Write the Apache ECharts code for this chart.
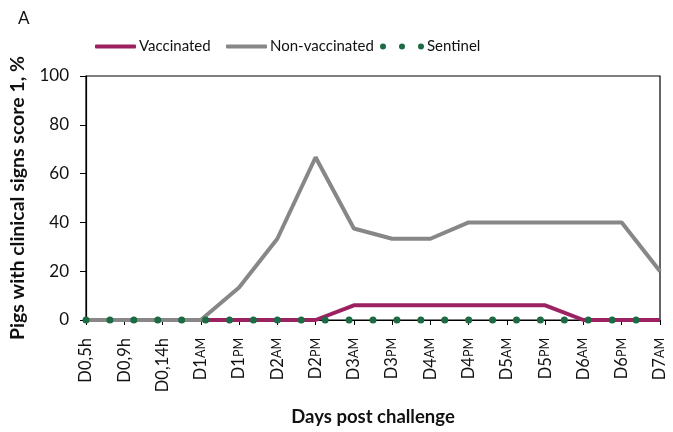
<!DOCTYPE html>
<html>
<head>
<meta charset="utf-8">
<script src="https://cdn.jsdelivr.net/npm/echarts@6/dist/echarts.min.js"></script>
<style>html,body{margin:0;padding:0;background:#fff}#c{width:673px;height:432px}</style>
</head>
<body>
<div id="c"></div>
<script>
var categories = ['D0,5h','D0,9h','D0,14h','D1AM','D1PM','D2AM','D2PM','D3AM','D3PM','D4AM','D4PM','D5AM','D5PM','D6AM','D6PM','D7AM'];
var vaccinated = [0,0,0,0,0,0,0,6,6,6,6,6,6,0,0,0];
var nonVaccinated = [0,0,0,0,13.3,33.3,66.7,37.5,33.3,33.3,40,40,40,40,40,20];
var sentinel = [0,0,0,0,0,0,0,0,0,0,0,0,0,0,0,0,0,0,0,0,0,0,0,0];
var sentinelSlots = 25;
var yTicks = [0,20,40,60,80,100];

var FONT = 'Lato';
var chart = echarts.init(document.getElementById('c'), null, {renderer:'canvas'});
var dotsIcon = 'path://M0,3a3,3 0 1,0 6,0a3,3 0 1,0 -6,0Z M19,3a3,3 0 1,0 6,0a3,3 0 1,0 -6,0Z M38,3a3,3 0 1,0 6,0a3,3 0 1,0 -6,0Z';
function legendAt(left, name, icon, w, h, color) {
  return {
    left: left, top: 39, padding: 0, itemWidth: w, itemHeight: h, itemGap: 0,
    icon: icon, data: [{name: name, icon: icon, itemStyle: {color: color}}],
    textStyle: {fontFamily: FONT, fontSize: 15, color: '#111', padding: [0,0,0,-2]},
    selectedMode: false
  };
}
chart.setOption({
  animation: false,
  textStyle: {fontFamily: FONT},
  title: {text: 'A', left: 13, top: 5, textStyle: {fontFamily: FONT, fontSize: 17, fontWeight: 'normal', color: '#111'}},
  legend: [
    legendAt(95, 'Vaccinated', 'roundRect', 41, 4, '#9b2160'),
    legendAt(226, 'Non-vaccinated', 'roundRect', 41, 4, '#878787'),
    legendAt(380, 'Sentinel', dotsIcon, 44, 6, '#1d6b44')
  ],
  grid: {left: 84, top: 76, right: 13, bottom: 112, show: true, borderColor: '#000', borderWidth: 1.2, containLabel: false},
  xAxis: [{
    type: 'category', data: categories, boundaryGap: false,
    name: 'Days post challenge', nameLocation: 'middle', nameGap: 88,
    nameTextStyle: {fontFamily: FONT, fontSize: 18.5, fontWeight: 'bold', color: '#111'},
    axisLine: {lineStyle: {color: '#000', width: 1.2}},
    axisTick: {show: true, alignWithLabel: true, length: 5, lineStyle: {color: '#000'}, interval: 0},
    axisLabel: {
      interval: 0, rotate: 90, margin: 18, color: '#111',
      formatter: function (v) {
        var m = v.match(/^(D\d)(AM|PM)$/);
        if (m) return '{a|' + m[1] + '}{s|' + m[2] + '}';
        return '{a|' + v + '}';
      },
      rich: {a: {fontFamily: FONT, fontSize: 16.5, color: '#111'}, s: {fontFamily: FONT, fontSize: 12.5, color: '#111'}}
    },
    splitLine: {show: false}
  }, {
    type: 'category', boundaryGap: false, show: false, min: 0, max: sentinelSlots - 1,
    data: sentinel.map(function (v, i) { return String(i); }).concat(['']),
    position: 'bottom'
  }],
  yAxis: {
    type: 'value', min: yTicks[0], max: yTicks[yTicks.length - 1], interval: 20,
    name: 'Pigs with clinical signs score 1, %', nameLocation: 'middle', nameGap: 58,
    nameTextStyle: {fontFamily: FONT, fontSize: 19.5, fontWeight: 'bold', color: '#111'},
    axisLine: {show: true, lineStyle: {color: '#000', width: 1.2}},
    axisTick: {show: true, length: 6, lineStyle: {color: '#000'}},
    axisLabel: {color: '#111', fontFamily: FONT, fontSize: 17, margin: 17},
    splitLine: {show: false}
  },
  series: [
    {name: 'Vaccinated', type: 'line', data: vaccinated, xAxisIndex: 0, symbol: 'none',
     lineStyle: {color: '#9b2160', width: 4}, itemStyle: {color: '#9b2160'}},
    {name: 'Non-vaccinated', type: 'line', data: nonVaccinated, xAxisIndex: 0, symbol: 'none',
     lineStyle: {color: '#878787', width: 4}, itemStyle: {color: '#878787'}},
    {name: 'Sentinel', type: 'line', data: sentinel, xAxisIndex: 1, symbol: 'circle', symbolSize: 7,
     lineStyle: {width: 0, opacity: 0}, itemStyle: {color: '#1d6b44'}, z: 5}
  ]
});
</script>
</body>
</html>
